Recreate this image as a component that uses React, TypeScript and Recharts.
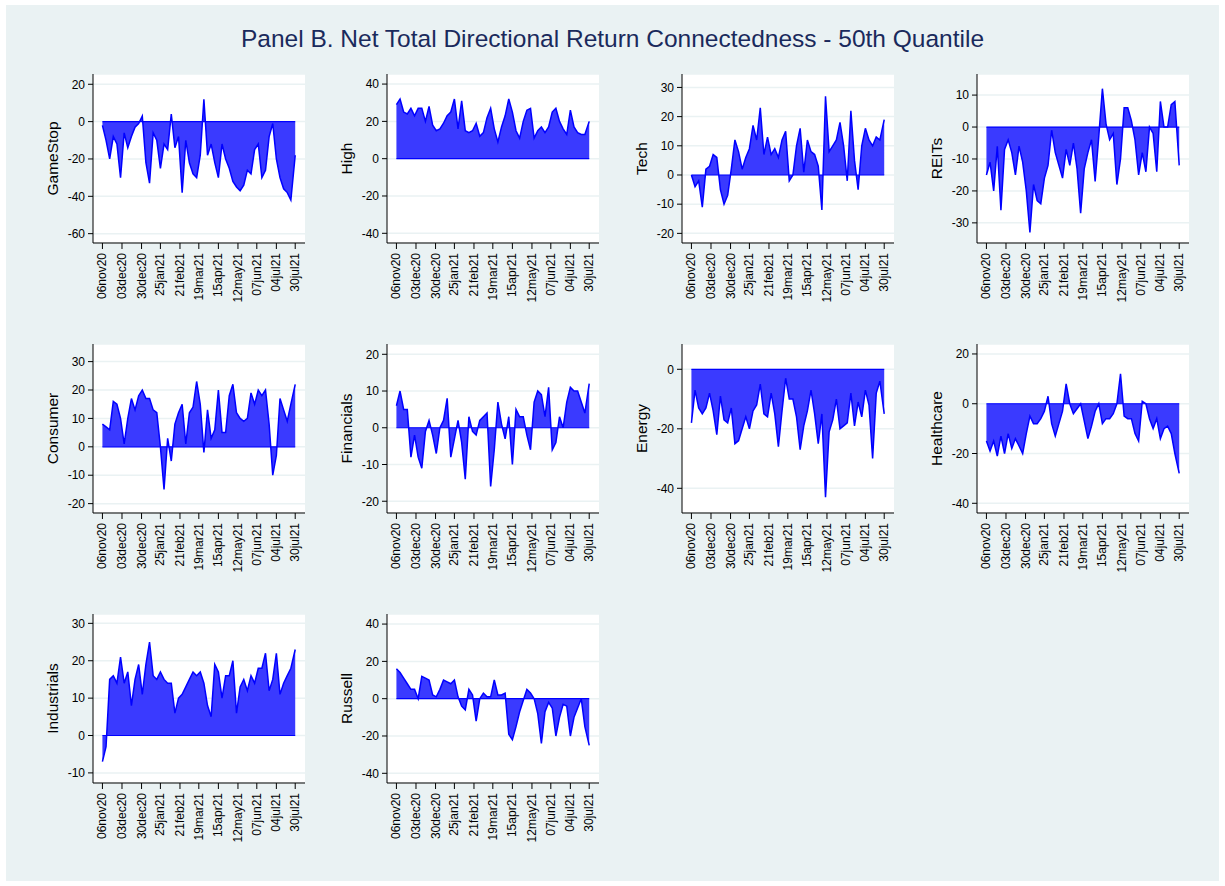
import React from "react";
import {
  AreaChart,
  Area,
  XAxis,
  YAxis,
  CartesianGrid,
  ReferenceLine,
} from "recharts";

// sample days, counted from 06nov20
const days = [
  0, 5, 10, 15, 20, 25, 30, 35, 40, 45, 50, 55, 60, 65, 70, 75, 80, 85, 90, 95,
  100, 105, 110, 115, 120, 125, 130, 135, 140, 145, 150, 155, 160, 165, 170, 175,
  180, 185, 190, 195, 200, 205, 210, 215, 220, 225, 230, 235, 240, 245, 250, 255,
  260, 266,
];

const dateTicks = [0, 27, 54, 80, 107, 133, 160, 187, 213, 240, 266];
const dateLabels = [
  "06nov20", "03dec20", "30dec20", "25jan21", "21feb21", "19mar21",
  "15apr21", "12may21", "07jun21", "04jul21", "30jul21",
];

const gameStop = [
  -2, -10, -20, -8, -12, -30, -6, -14, -8, -3, -1, 3, -22, -33, -6, -10, -25, -12,
  -15, 4, -14, -8, -38, -10, -22, -28, -30, -18, 12, -18, -12, -22, -30, -12, -20,
  -25, -32, -35, -37, -34, -26, -28, -15, -12, -30, -26, -8, -1, -20, -30, -36, -38,
  -42, -18,
];
const high = [
  29, 32, 25, 24, 27, 23, 27, 27, 20, 28, 18, 15, 16, 19, 23, 25, 32, 16, 31, 15,
  14, 15, 19, 12, 14, 22, 27, 16, 9, 17, 23, 32, 25, 15, 11, 20, 26, 27, 11, 15,
  17, 14, 17, 25, 27, 20, 16, 13, 26, 17, 14, 13, 13, 20,
];
const tech = [
  0, -4, -2, -11, 2, 3, 7, 6, -5, -10, -7, 2, 12, 8, 2, 6, 9, 17, 12, 23, 7, 13, 7,
  9, 6, 12, 15, -2, 0, 10, 16, 1, 12, 8, 7, 3, -12, 27, 8, 10, 12, 18, 10, -2, 22,
  5, -5, 10, 16, 12, 10, 13, 12, 19,
];
const reits = [
  -15, -11, -20, -6, -26, -7, -4, -8, -15, -6, -11, -20, -33, -18, -23, -24, -16,
  -12, -1, -8, -12, -16, -7, -12, -5, -13, -27, -13, -8, -4, -17, -3, 12, 1, -4, -2,
  -18, -10, 6, 6, 2, -4, -15, -8, -14, 0, -2, -14, 8, 0, 0, 7, 8, -12,
];
const consumer = [
  8, 7, 6, 16, 15, 10, 1, 10, 17, 13, 18, 20, 17, 17, 13, 12, 0, -15, 3, -5, 8, 12,
  15, 1, 12, 14, 23, 15, -2, 13, 3, 6, 20, 5, 5, 18, 22, 12, 10, 9, 10, 19, 15, 20,
  18, 20, 8, -10, -3, 17, 13, 9, 15, 22,
];
const financials = [
  6, 10, 5, 5, -8, -2, -8, -11, -1, 2, -2, -7, 0, 2, 8, -8, -3, 2, -4, -14, 3, -1,
  -2, 2, 3, 4, -16, -6, 7, 1, -3, 3, -10, 5, 3, 3, -2, -6, 7, 10, 9, 3, 11, -6, -4,
  3, 0, 7, 11, 10, 10, 7, 4, 12,
];
const energy = [
  -18, -7, -13, -15, -13, -8, -14, -22, -9, -17, -18, -13, -25, -24, -20, -16, -20,
  -14, -12, -5, -15, -16, -8, -15, -26, -14, -3, -10, -10, -16, -27, -19, -14, -7,
  -15, -25, -15, -43, -21, -17, -10, -20, -19, -18, -8, -19, -11, -16, -7, -12, -30,
  -8, -4, -15,
];
const healthcare = [
  -15, -19, -15, -21, -13, -20, -12, -18, -14, -17, -20, -12, -5, -8, -8, -6, -3, 3,
  -8, -13, -8, -3, 8, 0, -4, -2, 0, -7, -14, -9, -3, 0, -8, -6, -6, -4, 0, 12, -5,
  -6, -6, -12, -15, 1, 0, -6, -10, -6, -14, -10, -9, -12, -20, -28,
];
const industrials = [
  -7, -3, 15, 16, 14, 21, 14, 17, 8, 15, 19, 11, 19, 25, 16, 15, 17, 15, 14, 14, 6,
  10, 11, 13, 15, 17, 16, 17, 14, 8, 5, 19, 17, 10, 16, 16, 20, 6, 13, 15, 12, 16,
  14, 18, 18, 22, 12, 15, 22, 11, 14, 16, 18, 23,
];
const russell = [
  16, 14, 11, 8, 5, 5, 0, 12, 11, 10, 2, 1, 5, 10, 9, 8, 10, 1, -4, -6, 5, 2, -12, 0,
  3, 1, 1, 10, 2, 2, 3, -19, -22, -15, -7, -1, 5, 3, 0, -8, -24, -7, -2, -5, -20,
  -10, -3, -4, -20, -10, -5, 0, -15, -25,
];

const panels = [
  { name: "GameStop", values: gameStop, domain: [-65, 25.5], ticks: [-60, -40, -20, 0, 20] },
  { name: "High", values: high, domain: [-45.2, 45.4], ticks: [-40, -20, 0, 20, 40] },
  { name: "Tech", values: tech, domain: [-23.3, 34.6], ticks: [-20, -10, 0, 10, 20, 30] },
  { name: "REITs", values: reits, domain: [-36.3, 16.6], ticks: [-30, -20, -10, 0, 10] },
  { name: "Consumer", values: consumer, domain: [-23.3, 36.2], ticks: [-20, -10, 0, 10, 20, 30] },
  { name: "Financials", values: financials, domain: [-23.2, 22.8], ticks: [-20, -10, 0, 10, 20] },
  { name: "Energy", values: energy, domain: [-48.3, 8.5], ticks: [-40, -20, 0] },
  { name: "Healthcare", values: healthcare, domain: [-43.9, 24], ticks: [-40, -20, 0, 20] },
  { name: "Industrials", values: industrials, domain: [-12.7, 32.5], ticks: [-10, 0, 10, 20, 30] },
  { name: "Russell", values: russell, domain: [-45.2, 45.4], ticks: [-40, -20, 0, 20, 40] },
];

const FONT = "'Liberation Sans', Arial, Helvetica, sans-serif";
const colLeft = [93, 387, 682, 977];
const rowTop = [74, 344, 614];
const AXIS_W = 60;
const PLOT_W = 212;
const PLOT_H = 169;

const DateTick = (props: any) => {
  const { x, y, payload } = props;
  const i = dateTicks.indexOf(payload.value);
  return (
    <text
      x={x}
      y={y}
      dy={4}
      transform={`rotate(-90 ${x} ${y})`}
      textAnchor="end"
      fontSize={12}
      fontFamily={FONT}
      fill="#000"
    >
      {i >= 0 ? dateLabels[i] : ""}
    </text>
  );
};

const Panel = ({ panel, idx }: { panel: any; idx: number }) => {
  const data = days.map((d, i) => ({ d, v: panel.values[i] }));
  const left = colLeft[idx % 4] - AXIS_W;
  const top = rowTop[Math.floor(idx / 4)] - 5;
  return (
    <div style={{ position: "absolute", left, top }}>
      <AreaChart
        width={AXIS_W + PLOT_W + 5}
        height={5 + PLOT_H + 75}
        data={data}
        margin={{ top: 5, right: 5, bottom: 0, left: 0 }}
      >
        <CartesianGrid
          vertical={false}
          fill="#ffffff"
          fillOpacity={1}
          stroke="#eaf2f3"
          strokeWidth={1.5}
        />
        <XAxis
          type="number"
          dataKey="d"
          domain={[-13, 279.5]}
          ticks={dateTicks}
          interval={0}
          height={75}
          stroke="#000"
          tickSize={6}
          tickMargin={4}
          tick={<DateTick />}
        />
        <YAxis
          type="number"
          domain={panel.domain}
          ticks={panel.ticks}
          interval={0}
          width={AXIS_W}
          stroke="#000"
          tickSize={5}
          tickMargin={3}
          tick={{ fontSize: 12, fontFamily: FONT, fill: "#000" }}
          label={{
            value: panel.name,
            angle: -90,
            position: "center",
            dx: -11,
            style: { fontSize: 15.5, fontFamily: FONT, fill: "#000" },
          }}
        />
        <Area
          type="linear"
          dataKey="v"
          baseValue={0}
          stroke="#0000ff"
          strokeWidth={1.5}
          fill="#3a3aff"
          fillOpacity={1}
          dot={false}
          activeDot={false}
          isAnimationActive={false}
        />
        <ReferenceLine
          segment={[
            { x: days[0], y: 0 },
            { x: days[days.length - 1], y: 0 },
          ]}
          stroke="#0000ff"
          strokeWidth={1.2}
        />
      </AreaChart>
    </div>
  );
};

export default function App() {
  return (
    <div
      style={{
        position: "absolute",
        left: 0,
        top: 0,
        width: 1225,
        height: 886,
        background: "#ffffff",
        fontFamily: FONT,
      }}
    >
      <div
        style={{
          position: "absolute",
          left: 6,
          top: 5,
          width: 1213,
          height: 876,
          background: "#eaf2f3",
        }}
      />
      <div
        style={{
          position: "absolute",
          left: 0,
          top: 25,
          width: 1225,
          textAlign: "center",
          fontSize: 24.5,
          color: "#1a2a5c",
        }}
      >
        Panel B. Net Total Directional Return Connectedness - 50th Quantile
      </div>
      {panels.map((p, i) => (
        <Panel key={p.name} panel={p} idx={i} />
      ))}
    </div>
  );
}
